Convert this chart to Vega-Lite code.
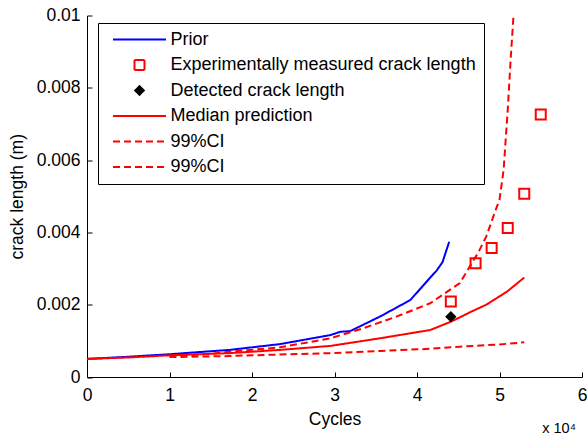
{
  "$schema": "https://vega.github.io/schema/vega-lite/v6.json",
  "width": 495,
  "height": 361.5,
  "autosize": {"type": "none"},
  "padding": {"left": 87, "top": 15.5, "right": 5, "bottom": 62},
  "background": "white",
  "title": {
    "text": "x 10⁴",
    "orient": "bottom",
    "anchor": "end",
    "fontSize": 14.5,
    "fontWeight": "normal",
    "font": "Liberation Sans",
    "color": "#000",
    "offset": -6,
    "dx": -11
  },
  "config": {
    "view": {"stroke": null},
    "font": "Liberation Sans",
    "axis": {
      "grid": false,
      "domainColor": "#000",
      "domainWidth": 1,
      "tickColor": "#000",
      "tickWidth": 1,
      "tickSize": 5,
      "labelFont": "Liberation Sans",
      "labelFontSize": 17.5,
      "labelColor": "#000",
      "titleFont": "Liberation Sans",
      "titleFontSize": 17.5,
      "titleFontWeight": "normal",
      "titleColor": "#000"
    },
    "legend": {
      "orient": "none",
      "legendX": 11,
      "legendY": 7.5,
      "title": null,
      "padding": 7.5,
      "strokeColor": "#000",
      "fillColor": "#fff",
      "symbolSize": 100,
      "symbolStrokeWidth": 2,
      "symbolOffset": 25,
      "labelOffset": 22,
      "labelFont": "Liberation Sans",
      "labelFontSize": 18,
      "labelColor": "#000",
      "rowPadding": 7.5,
      "labelLimit": 400
    }
  },
  "resolve": {"axis": {"x": "independent", "y": "independent"}},
  "datasets": {
    "curves": [
      {"series": "Prior", "cycles": 0, "crack": 0.0005},
      {"series": "Prior", "cycles": 5000, "crack": 0.00056},
      {"series": "Prior", "cycles": 10000, "crack": 0.00063},
      {"series": "Prior", "cycles": 17300, "crack": 0.00075},
      {"series": "Prior", "cycles": 23400, "crack": 0.00091},
      {"series": "Prior", "cycles": 29500, "crack": 0.00116},
      {"series": "Prior", "cycles": 30700, "crack": 0.00125},
      {"series": "Prior", "cycles": 31900, "crack": 0.00127},
      {"series": "Prior", "cycles": 35500, "crack": 0.00167},
      {"series": "Prior", "cycles": 39200, "crack": 0.00213},
      {"series": "Prior", "cycles": 41600, "crack": 0.00275},
      {"series": "Prior", "cycles": 42400, "crack": 0.00295},
      {"series": "Prior", "cycles": 43100, "crack": 0.00318},
      {"series": "Prior", "cycles": 43900, "crack": 0.00374},
      {"series": "Median prediction", "cycles": 0, "crack": 0.0005},
      {"series": "Median prediction", "cycles": 5000, "crack": 0.00054},
      {"series": "Median prediction", "cycles": 10000, "crack": 0.0006},
      {"series": "Median prediction", "cycles": 17300, "crack": 0.00066},
      {"series": "Median prediction", "cycles": 23400, "crack": 0.00075},
      {"series": "Median prediction", "cycles": 29500, "crack": 0.00086},
      {"series": "Median prediction", "cycles": 35500, "crack": 0.00107},
      {"series": "Median prediction", "cycles": 41600, "crack": 0.0013},
      {"series": "Median prediction", "cycles": 44000, "crack": 0.00152},
      {"series": "Median prediction", "cycles": 45200, "crack": 0.00165},
      {"series": "Median prediction", "cycles": 46500, "crack": 0.0018},
      {"series": "Median prediction", "cycles": 48400, "crack": 0.002},
      {"series": "Median prediction", "cycles": 50900, "crack": 0.00236},
      {"series": "Median prediction", "cycles": 53000, "crack": 0.00275},
      {"series": "99%CI upper", "cycles": 10000, "crack": 0.00058},
      {"series": "99%CI upper", "cycles": 15000, "crack": 0.00064},
      {"series": "99%CI upper", "cycles": 17300, "crack": 0.0007},
      {"series": "99%CI upper", "cycles": 23400, "crack": 0.00082},
      {"series": "99%CI upper", "cycles": 29500, "crack": 0.00107},
      {"series": "99%CI upper", "cycles": 33500, "crack": 0.00135},
      {"series": "99%CI upper", "cycles": 37500, "crack": 0.00167},
      {"series": "99%CI upper", "cycles": 41600, "crack": 0.00204},
      {"series": "99%CI upper", "cycles": 45200, "crack": 0.0026},
      {"series": "99%CI upper", "cycles": 46500, "crack": 0.0031},
      {"series": "99%CI upper", "cycles": 47400, "crack": 0.00343},
      {"series": "99%CI upper", "cycles": 48400, "crack": 0.00389},
      {"series": "99%CI upper", "cycles": 49500, "crack": 0.0046},
      {"series": "99%CI upper", "cycles": 50000, "crack": 0.0049},
      {"series": "99%CI upper", "cycles": 50500, "crack": 0.00573},
      {"series": "99%CI upper", "cycles": 51000, "crack": 0.0074},
      {"series": "99%CI upper", "cycles": 51350, "crack": 0.00878},
      {"series": "99%CI upper", "cycles": 51700, "crack": 0.01},
      {"series": "99%CI lower", "cycles": 10000, "crack": 0.00055},
      {"series": "99%CI lower", "cycles": 17300, "crack": 0.00058},
      {"series": "99%CI lower", "cycles": 20000, "crack": 0.0006},
      {"series": "99%CI lower", "cycles": 29500, "crack": 0.00066},
      {"series": "99%CI lower", "cycles": 35500, "crack": 0.00072},
      {"series": "99%CI lower", "cycles": 41600, "crack": 0.00078},
      {"series": "99%CI lower", "cycles": 45200, "crack": 0.00084},
      {"series": "99%CI lower", "cycles": 50000, "crack": 0.0009},
      {"series": "99%CI lower", "cycles": 53000, "crack": 0.00096}
    ],
    "measurements": [
      {"series": "Experimentally measured crack length", "cycles": 44100, "crack": 0.00209},
      {"series": "Experimentally measured crack length", "cycles": 47100, "crack": 0.00315},
      {"series": "Experimentally measured crack length", "cycles": 49050, "crack": 0.00357},
      {"series": "Experimentally measured crack length", "cycles": 51000, "crack": 0.00412},
      {"series": "Experimentally measured crack length", "cycles": 53000, "crack": 0.00507},
      {"series": "Experimentally measured crack length", "cycles": 55000, "crack": 0.00726},
      {"series": "Detected crack length", "cycles": 44100, "crack": 0.00167}
    ]
  },
  "encoding": {
    "color": {
      "field": "series",
      "type": "nominal",
      "scale": {
        "domain": ["Prior", "Experimentally measured crack length", "Detected crack length", "Median prediction", "99%CI upper", "99%CI lower"],
        "range": ["#0000ff", "#ff0000", "#000000", "#ff0000", "#ff0000", "#ff0000"]
      },
      "legend": {"labelExpr": "indexof(datum.label, '99%CI') === 0 ? '99%CI' : datum.label"}
    }
  },
  "layer": [
    {
      "data": {"name": "curves"},
      "mark": {"type": "line", "strokeWidth": 2, "clip": true},
      "encoding": {
        "x": {
          "field": "cycles",
          "type": "quantitative",
          "scale": {"domain": [0, 60000], "nice": false},
          "axis": {
            "title": "Cycles",
            "values": [0, 10000, 20000, 30000, 40000, 50000, 60000],
            "labelExpr": "datum.value / 10000",
            "ticks": false,
            "labelPadding": 9.5,
            "labelFlush": false,
            "titlePadding": 6
          }
        },
        "y": {
          "field": "crack",
          "type": "quantitative",
          "scale": {"domain": [0, 0.01], "nice": false},
          "axis": {
            "title": "crack length (m)",
            "values": [0, 0.002, 0.004, 0.006, 0.008, 0.01],
            "format": ".3~f",
            "ticks": false,
            "labelPadding": 7,
            "labelFlush": false,
            "titlePadding": 10
          }
        },
        "strokeDash": {
          "field": "series",
          "type": "nominal",
          "scale": {
            "domain": ["Prior", "Experimentally measured crack length", "Detected crack length", "Median prediction", "99%CI upper", "99%CI lower"],
            "range": [[1, 0], [1, 0], [1, 0], [1, 0], [7, 4], [7, 4]]
          },
          "legend": {"labelExpr": "indexof(datum.label, '99%CI') === 0 ? '99%CI' : datum.label"}
        }
      }
    },
    {
      "data": {"name": "measurements"},
      "mark": {"type": "point", "strokeWidth": 2, "size": 100, "opacity": 1, "clip": true},
      "encoding": {
        "x": {
          "field": "cycles",
          "type": "quantitative",
          "scale": {"domain": [0, 60000], "nice": false},
          "axis": {
            "orient": "top",
            "offset": -361.5,
            "title": null,
            "values": [0, 10000, 20000, 30000, 40000, 50000, 60000],
            "labels": false,
            "domain": false,
            "ticks": true,
            "tickSize": 5
          }
        },
        "y": {
          "field": "crack",
          "type": "quantitative",
          "scale": {"domain": [0, 0.01], "nice": false},
          "axis": {
            "orient": "right",
            "offset": -495,
            "title": null,
            "values": [0, 0.002, 0.004, 0.006, 0.008, 0.01],
            "labels": false,
            "domain": false,
            "ticks": true,
            "tickSize": 5
          }
        },
        "shape": {
          "field": "series",
          "type": "nominal",
          "scale": {
            "domain": ["Prior", "Experimentally measured crack length", "Detected crack length", "Median prediction", "99%CI upper", "99%CI lower"],
            "range": ["M-5.3,0H5.3", "square", "M-0.85,0L0,-0.85L0.85,0L0,0.85Z", "M-5.3,0H5.3", "M-5.3,0H5.3", "M-5.3,0H5.3"]
          },
          "legend": {"labelExpr": "indexof(datum.label, '99%CI') === 0 ? '99%CI' : datum.label"}
        },
        "fill": {
          "field": "series",
          "type": "nominal",
          "scale": {
            "domain": ["Prior", "Experimentally measured crack length", "Detected crack length", "Median prediction", "99%CI upper", "99%CI lower"],
            "range": ["transparent", "transparent", "#000000", "transparent", "transparent", "transparent"]
          },
          "legend": {"labelExpr": "indexof(datum.label, '99%CI') === 0 ? '99%CI' : datum.label"}
        }
      }
    }
  ]
}
